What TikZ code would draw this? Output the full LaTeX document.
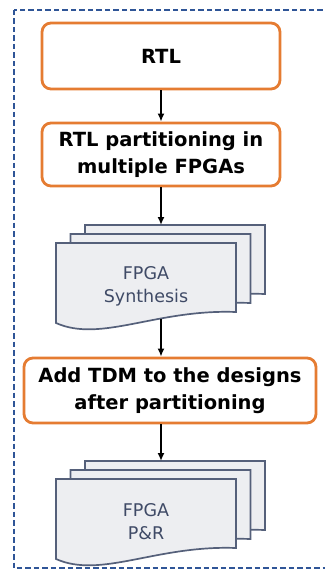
\documentclass[tikz,border=0pt]{standalone}
\usepackage{fontspec}
\setmainfont{DejaVu Sans}
\usetikzlibrary{arrows.meta}
\definecolor{frameblue}{HTML}{2F5597}
\definecolor{boxorange}{HTML}{E57C32}
\definecolor{pageedge}{HTML}{55607A}
\definecolor{pagefill}{HTML}{EDEEF1}
\definecolor{pagetext}{HTML}{3F4A66}

% one sheet of a document stack, top-left corner at the origin of the scope
\newcommand\docsheet[2]{%
  \begin{scope}[shift={(#1,#2)}]
    \path[page] (0,0) -- (180,0) -- (180,69)
      .. controls (100,66) and (45,100) .. (0,80) -- cycle;
  \end{scope}}

\begin{document}
\begin{tikzpicture}[x=1pt,y=-1pt,
  stepbox/.style={draw=boxorange, line width=2.8pt, rounded corners=9pt,
    fill=white, align=center, inner sep=0pt,
    font=\bfseries\fontsize{19.5}{27}\selectfont},
  flow/.style={line width=2pt, -{Latex[length=8pt,width=7pt]}},
  page/.style={draw=pageedge, line width=1.7pt, fill=pagefill},
  doclabel/.style={text=pagetext, align=center,
    font=\fontsize{17.5}{23}\selectfont}]
\useasboundingbox (0,0) rectangle (324,569);

% dashed enclosing frame
\draw[frameblue, line width=2.6pt, dash pattern=on 5.5pt off 3pt]
  (14,10) rectangle (345,568.5);

% process steps
\node[stepbox, minimum width=238pt, minimum height=66pt] (rtl) at (161,56) {RTL};
\node[stepbox, minimum width=238pt, minimum height=63pt] (part) at (161,154.5)
  {RTL partitioning in\\multiple FPGAs};
\node[stepbox, minimum width=292pt, minimum height=65pt] (tdm) at (170,390.5)
  {Add TDM to the designs\\after partitioning};

% synthesis document stack
\docsheet{85}{225}
\docsheet{70.5}{234}
\docsheet{56}{243}
\node[doclabel] (syn) at (146,286) {FPGA\\Synthesis};
\coordinate (syntop) at (161,225);
\coordinate (synbot) at (161,319);

% place & route document stack
\docsheet{85}{461}
\docsheet{70.5}{470}
\docsheet{56}{479}
\node[doclabel] (pnr) at (146,521.5) {FPGA\\P\&R};
\coordinate (pnrtop) at (161,461);

% connectors
\draw[flow] (rtl) -- (part);
\draw[flow] (part.south) -- (syntop);
\draw[flow] (synbot) -- (synbot |- tdm.north);
\draw[flow] (tdm.south -| pnrtop) -- (pnrtop);
\end{tikzpicture}
\end{document}
